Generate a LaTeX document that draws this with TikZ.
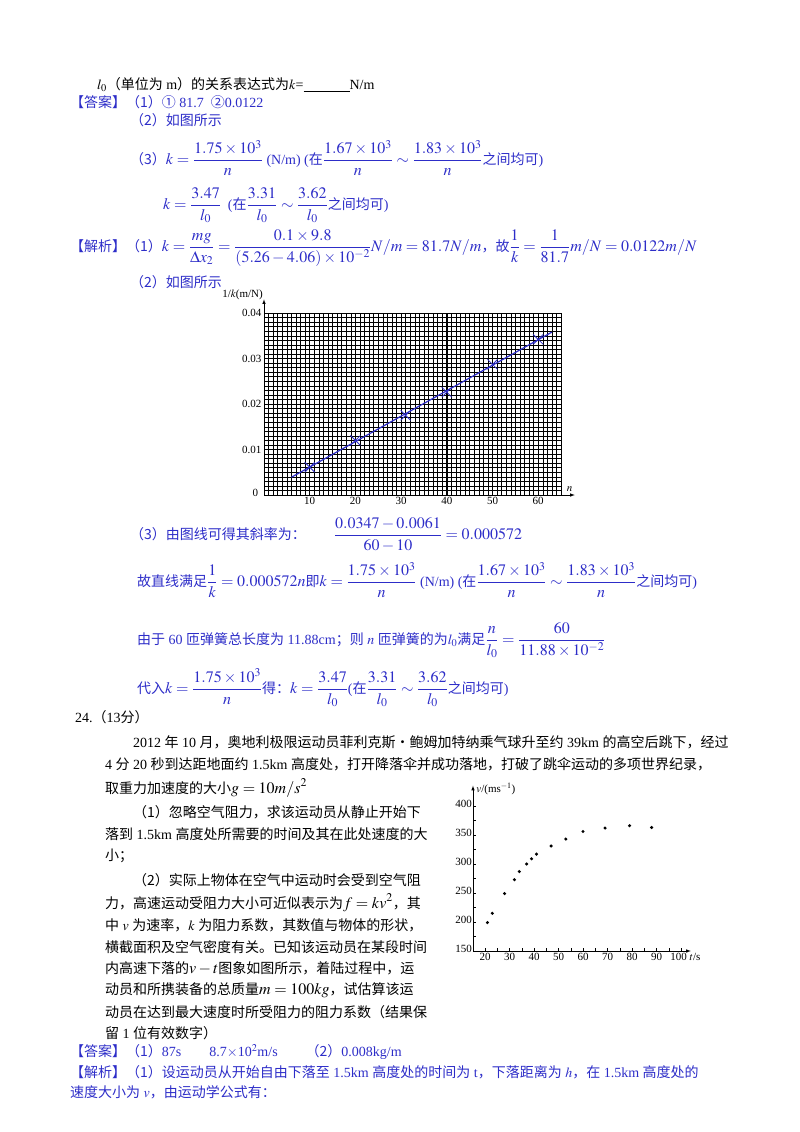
\documentclass[tikz,border=0pt]{standalone}
\usepackage{amsmath}
\usepackage{mathptmx}
\usepackage{fontspec}
\setmainfont{Liberation Serif}
\newfontfamily\cjk{Noto Sans CJK SC}
\newcommand{\C}[1]{{\cjk #1}}
\newcommand{\M}[1]{{\fontsize{16}{18}\selectfont$\displaystyle #1$}}
\definecolor{ansblue}{RGB}{45,45,200}
\begin{document}
\begin{tikzpicture}[x=1pt,y=-1pt,
  txt/.style={anchor=west,inner sep=0pt,font=\fontsize{14}{16}\selectfont},
  bl/.style={txt,text=ansblue},
  lab/.style={inner sep=1pt,font=\fontsize{11}{12}\selectfont},
  pt/.style={circle,fill=black,inner sep=0pt,minimum size=3.4pt},
  xm/.style={ansblue,line width=0.8pt}]
\useasboundingbox (0,0) rectangle (800,1132);
% ---------- top text
\node[txt] (t1) at (97,85) {$l_0$\C{（单位为} m\C{）的关系表达式为}$k$=\rule[-2pt]{46pt}{1.3pt}N/m};
\node[bl] (a1) at (70,102) {\C{【答案】（1）①} 81.7\ \ \C{②}0.0122};
\node[bl] (a2) at (130,120) {\C{（2）如图所示}};
\node[bl] (a3) at (130,158) {\C{（3）}\M{k=\frac{1.75\times10^3}{n}} (N/m) (\C{在}\M{\frac{1.67\times10^3}{n}\sim\frac{1.83\times10^3}{n}}\C{之间均可})};
\node[bl] (a4) at (163,205) {\M{k=\frac{3.47}{l_0}}\ \ (\C{在}\M{\frac{3.31}{l_0}\sim\frac{3.62}{l_0}}\C{之间均可})};
\node[bl] (j1) at (70,248) {\C{【解析】（1）}\M{k=\frac{mg}{\Delta x_2}=\frac{0.1\times9.8}{(5.26-4.06)\times10^{-2}}N/m=81.7N/m}\C{，故}\M{\frac{1}{k}=\frac{1}{81.7}m/N=0.0122m/N}};
\node[bl] (j2) at (130,282) {\C{（2）如图所示}};
% ---------- graph 1
\begin{scope}[shift={(264,495)},x=4.57pt,y=4.55pt]
  \foreach \i in {0,...,65} \draw[line width=0.45pt] (\i,0) -- (\i,40);
  \foreach \j in {0,...,40} \draw[line width=0.45pt] (0,\j) -- (65,\j);
  \foreach \i in {0,10,...,60} \draw[line width=1pt] (\i,0) -- (\i,40);
  \draw[line width=1pt] (65,0) -- (65,40);
  \foreach \j in {0,10,20,30,40} \draw[line width=1pt] (0,\j) -- (65,\j);
  \coordinate (o1) at (0,0);
  \coordinate (xe1) at (68,0);
  \coordinate (ye1) at (0,43);
  \draw[-latex,line width=0.6pt] (o1) -- (xe1);
  \draw[-latex,line width=0.6pt] (o1) -- (ye1);
  \node[lab,anchor=east] (y0) at (-1,0.5) {0};
  \foreach \j/\s in {10/0.01,20/0.02,30/0.03,40/0.04} \node[lab,anchor=east] (yl\j) at (-0.3,\j) {\s};
  \foreach \i in {10,20,...,60} \node[lab,anchor=north] (xl\i) at (\i,-0.3) {\i};
  \node[lab,anchor=west] (nlab) at (66,1.2) {$n$};
  \node[lab,anchor=east] (ylab) at (0,44) {1/$k$(m/N)};
  \coordinate (f1) at (6,3.9);
  \coordinate (f2) at (63,35.8);
  \draw[ansblue,line width=1.2pt] (f1) -- (f2);
  \foreach \a/\b in {10/6.1,20/12,31/17.5,40/22.6,50/28.7,60/34.2}
    \draw[xm] (\a-1.1,\b-1.1) -- (\a+1.1,\b+1.1) (\a-1.1,\b+1.1) -- (\a+1.1,\b-1.1);
\end{scope}
% ---------- part 3
\node[bl] (b1) at (130,535) {\C{（3）由图线可得其斜率为：}\qquad\M{\frac{0.0347-0.0061}{60-10}=0.000572}};
\node[bl] (b2) at (137,580) {\C{故直线满足}\M{\frac{1}{k}=0.000572n}\C{即}\M{k=\frac{1.75\times10^3}{n}} (N/m) (\C{在}\M{\frac{1.67\times10^3}{n}\sim\frac{1.83\times10^3}{n}}\C{之间均可})};
\node[bl] (b3) at (137,640) {\C{由于} 60 \C{匝弹簧总长度为} 11.88cm\C{；则} $n$ \C{匝弹簧的为}$l_0$\C{满足}\M{\frac{n}{l_0}=\frac{60}{11.88\times10^{-2}}}};
\node[bl] (b4) at (137,688) {\C{代入}\M{k=\frac{1.75\times10^3}{n}}\C{得：}\M{k=\frac{3.47}{l_0}}(\C{在}\M{\frac{3.31}{l_0}\sim\frac{3.62}{l_0}}\C{之间均可})};
% ---------- problem 24
\node[txt] (q0) at (75,717) {24.\C{（}13\C{分）}};
\node[txt] (q1) at (133,742) {2012 \C{年} 10 \C{月，奥地利极限运动员菲利克斯·鲍姆加特纳乘气球升至约} 39km \C{的高空后跳下，经过}};
\node[txt] (q2) at (105,764) {4 \C{分} 20 \C{秒到达距地面约} 1.5km \C{高度处，打开降落伞并成功落地，打破了跳伞运动的多项世界纪录，}};
\node[txt] (q3) at (105,788) {\C{取重力加速度的大小}\M{g=10m/s^2}};
\node[txt] (q4) at (133,812) {\C{（1）忽略空气阻力，求该运动员从静止开始下}};
\node[txt] (q5) at (105,834) {\C{落到} 1.5km \C{高度处所需要的时间及其在此处速度的大}};
\node[txt] (q6) at (105,856) {\C{小；}};
\node[txt] (q7) at (133,880) {\C{（2）实际上物体在空气中运动时会受到空气阻}};
\node[txt] (q8) at (105,903) {\C{力，高速运动受阻力大小可近似表示为}\M{f=kv^2}\C{，其}};
\node[txt] (q9) at (105,925) {\C{中} $v$ \C{为速率，}$k$ \C{为阻力系数，其数值与物体的形状，}};
\node[txt] (q10) at (105,947) {\C{横截面积及空气密度有关。已知该运动员在某段时间}};
\node[txt] (q11) at (105,968) {\C{内高速下落的}\M{v-t}\C{图象如图所示，着陆过程中，运}};
\node[txt] (q12) at (105,990) {\C{动员和所携装备的总质量}\M{m=100kg}\C{，试估算该运}};
\node[txt] (q13) at (105,1012) {\C{动员在达到最大速度时所受阻力的阻力系数（结果保}};
\node[txt] (q14) at (105,1033) {\C{留} 1 \C{位有效数字）}};
\node[bl] (r1) at (70,1052) {\C{【答案】（1）}87s\qquad 8.7$\times$10$^2$m/s\qquad\C{（2）}0.008kg/m};
\node[bl] (r2) at (70,1072) {\C{【解析】（1）设运动员从开始自由下落至} 1.5km \C{高度处的时间为} t\C{，下落距离为} $h$\C{，在} 1.5km \C{高度处的}};
\node[bl] (r3) at (70,1092) {\C{速度大小为} $v$\C{，由运动学公式有：}};
% ---------- graph 2
\begin{scope}[shift={(436,1038)},x=2.45pt,y=0.58pt]
  \coordinate (o2) at (15.1,150);
  \coordinate (xe2) at (104,150);
  \coordinate (ye2) at (15.1,435);
  \draw[-latex,line width=0.6pt] (o2) -- (xe2);
  \draw[-latex,line width=0.6pt] (o2) -- (ye2);
  \foreach \v in {175,200,...,400} \draw[line width=0.5pt] (15.1,\v) -- (16.3,\v);
  \foreach \t in {20,25,...,100} \draw[line width=0.5pt] (\t,150) -- (\t,155);
  \foreach \v in {150,200,...,400} \node[lab,anchor=east] (vl\v) at (15.1,\v+3) {\v};
  \foreach \t in {20,30,...,90} \node[lab,anchor=north] (tl\t) at (\t,149) {\t};
  \node[lab,anchor=north] (tl100) at (99,149) {100};
  \node[lab,anchor=north west] (tlab) at (103,149) {$t$/s};
  \node[lab,anchor=west] (vlab) at (16,430) {$v$/(ms$^{-1}$)};
  \foreach \a/\b in {21/199,23/215,28/249,32/273,34/287,37/300,39/309,41/317,47/331,53/343,60/356,69/362,79/366,88/363}
    \node[pt] at (\a,\b) {};
\end{scope}
\end{tikzpicture}
\end{document}
